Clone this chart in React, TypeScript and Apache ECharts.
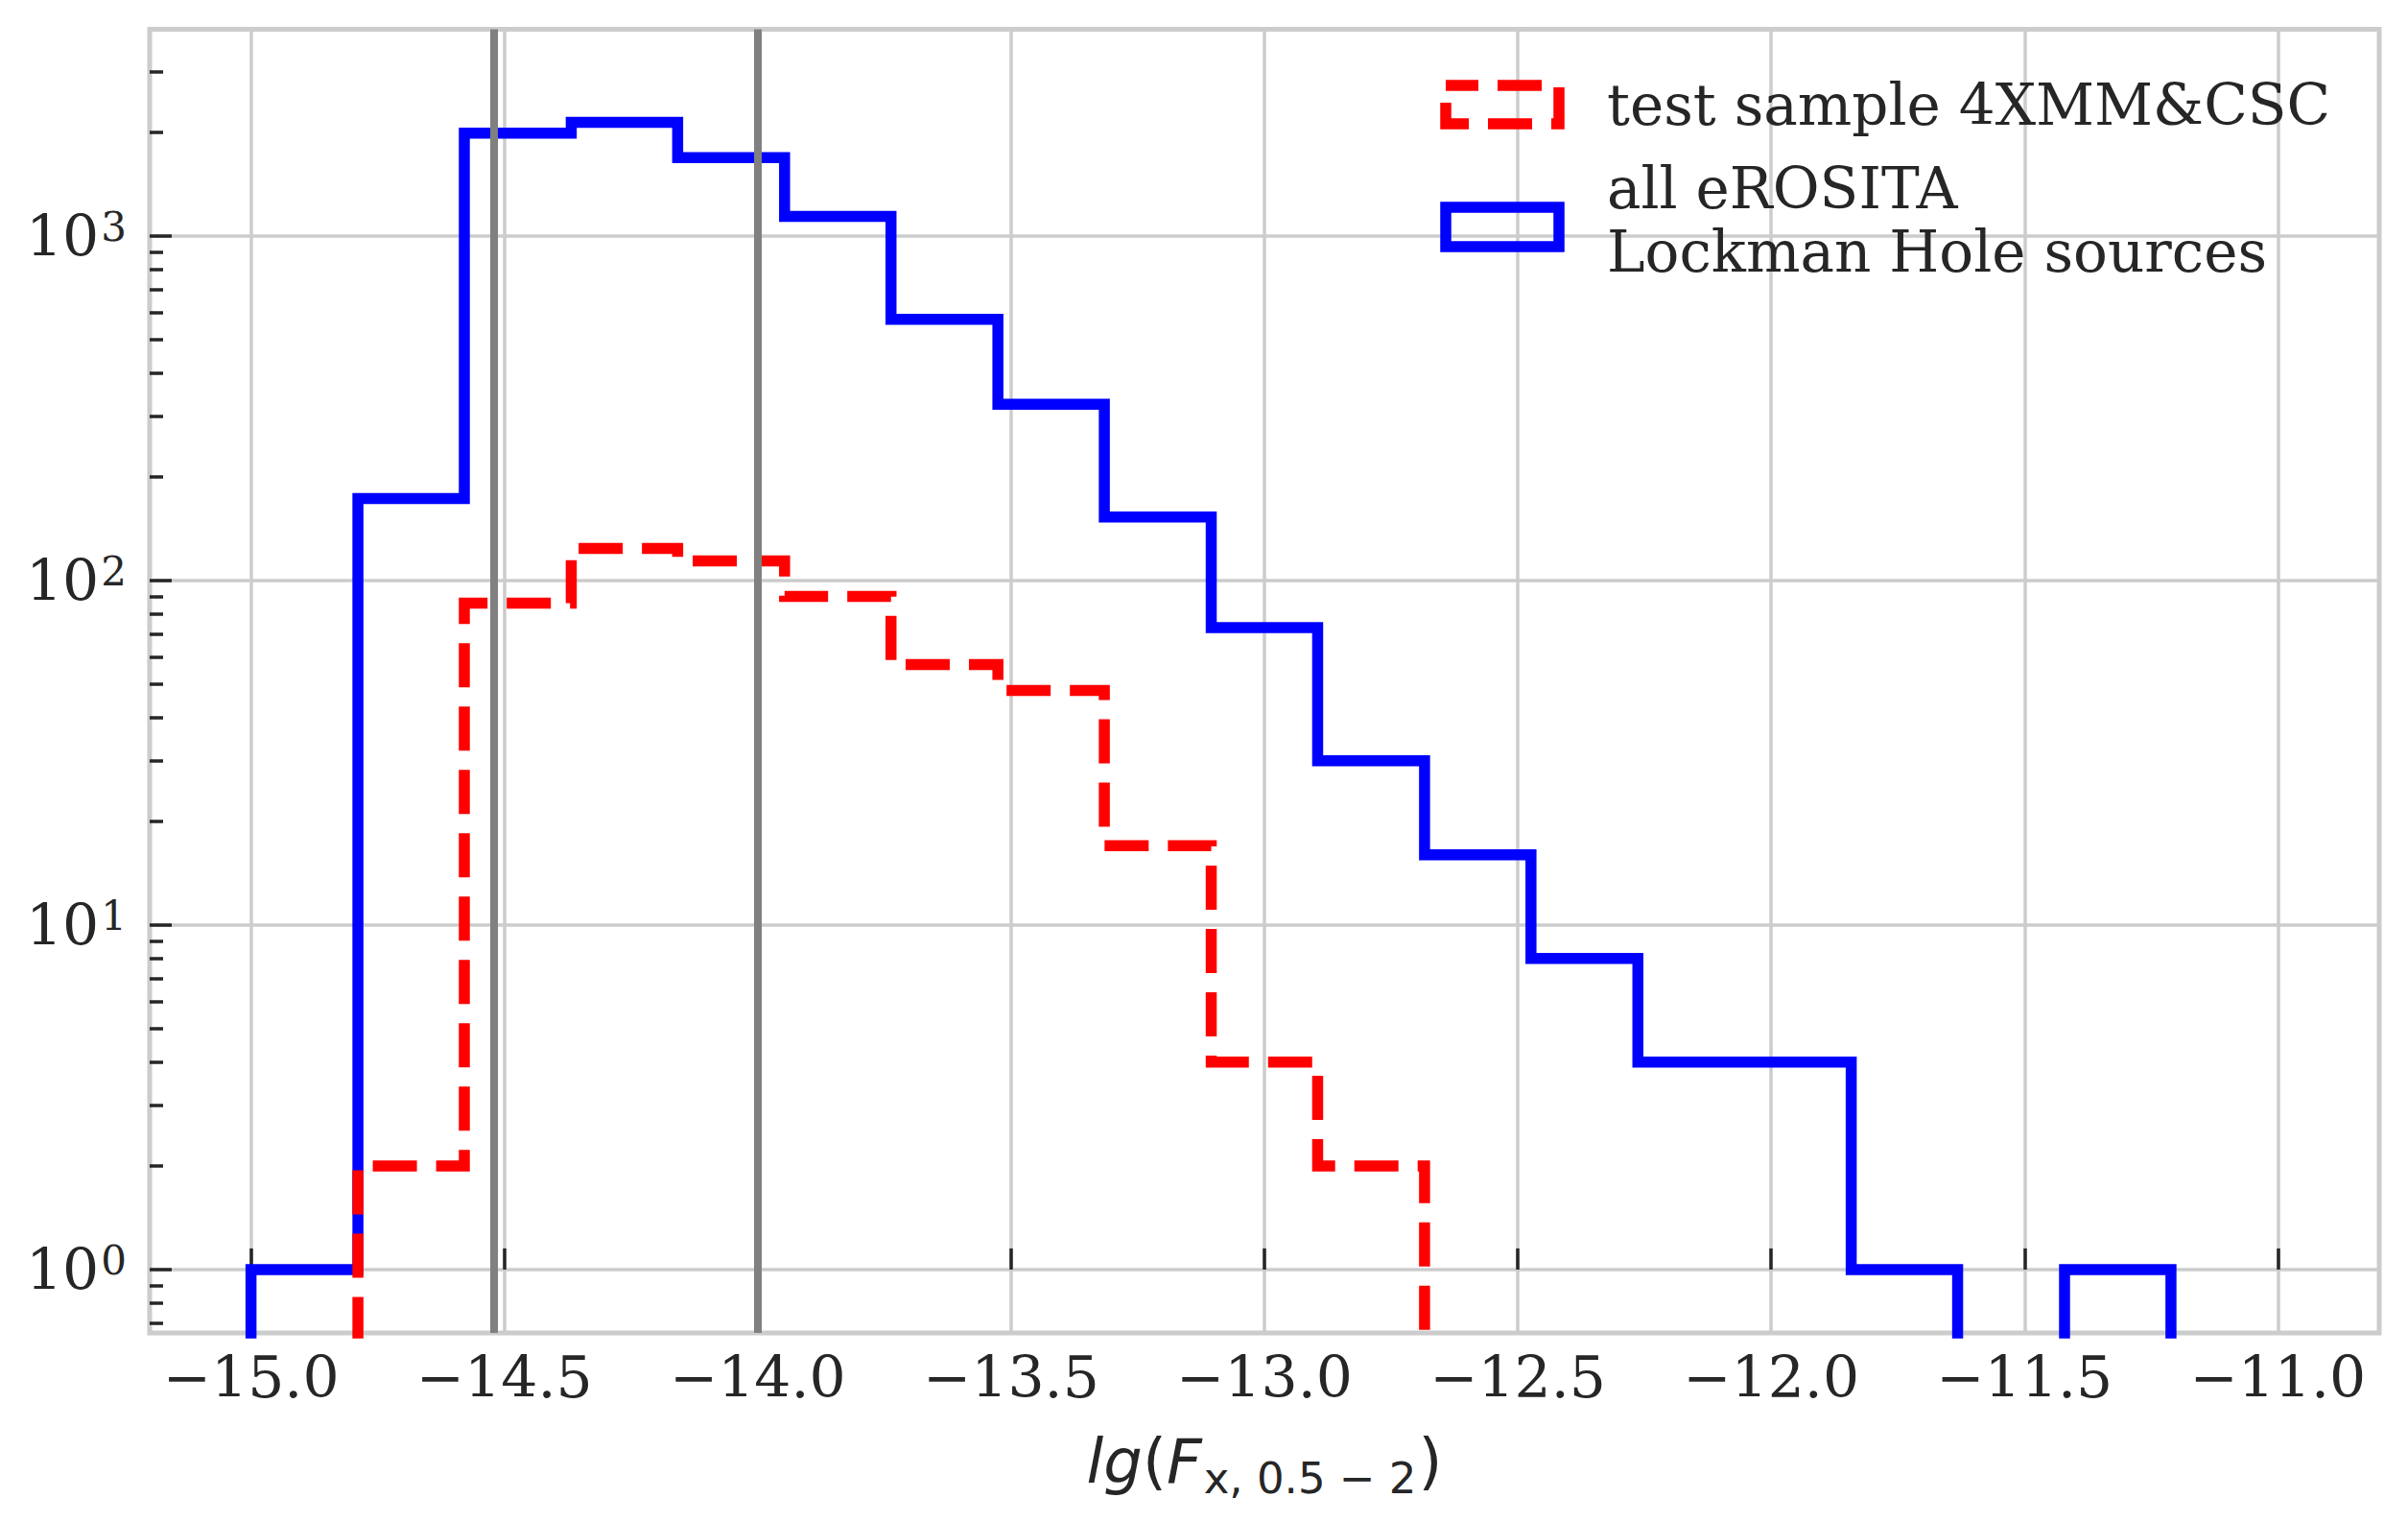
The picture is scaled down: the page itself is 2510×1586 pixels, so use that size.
import React, { useEffect, useRef } from "react";
import * as echarts from "echarts";

// Histogram bin edges (lg F_x, 0.5-2)
const binEdges = [
  -15.0, -14.789, -14.579, -14.368, -14.158, -13.947, -13.737, -13.526, -13.316, -13.105,
  -12.895, -12.684, -12.474, -12.263, -12.053, -11.842, -11.632, -11.421, -11.211, -11.0,
];
// Counts per bin
const eRositaCounts = [1, 173, 1990, 2140, 1690, 1140, 573, 325, 153, 73, 30, 16, 8, 4, 4, 1, 0, 1, 0];
const testSampleCounts = [0, 2, 86, 124, 114, 90, 57, 48, 17, 4, 2, 0, 0, 0, 0, 0, 0, 0, 0];
// Vertical reference lines
const refLines = [-14.52, -14.0];
// Tick values
const xTickValues = [-15.0, -14.5, -14.0, -13.5, -13.0, -12.5, -12.0, -11.5, -11.0];
const yMajorTicks = [1, 10, 100, 1000];
const yMinorTicks = [
  0.7, 0.8, 0.9, 2, 3, 4, 5, 6, 7, 8, 9, 20, 30, 40, 50, 60, 70, 80, 90,
  200, 300, 400, 500, 600, 700, 800, 900, 2000, 3000,
];
const seriesNames = ["test sample 4XMM&CSC", "all eROSITA\nLockman Hole sources"];

const X_MIN = -15.2;
const X_MAX = -10.8;
const Y_MIN = -0.184; // log10 of lower limit
const Y_MAX = 3.6; // log10 of upper limit
const BASE = -1;

function stepPoints(counts: number[]) {
  const toY = (c: number) => (c > 0 ? Math.log10(c) : BASE);
  const pts: number[][] = [[binEdges[0], BASE]];
  for (let i = 0; i < counts.length; i++) {
    pts.push([binEdges[i], toY(counts[i])]);
    pts.push([binEdges[i + 1], toY(counts[i])]);
  }
  pts.push([binEdges[binEdges.length - 1], BASE]);
  return pts;
}

const fmtX = (v: number) => (v < 0 ? "\u2212" + Math.abs(v).toFixed(1) : v.toFixed(1));

export default function App() {
  const ref = useRef<HTMLDivElement>(null);
  useEffect(() => {
    if (!ref.current) return;
    const chart = echarts.init(ref.current, undefined, { renderer: "svg" });
    const textColor = "#262626";
    const option: any = {
      animation: false,
      backgroundColor: "#ffffff",
      grid: {
        left: 156,
        right: 30,
        top: 30.6,
        bottom: 197,
        show: true,
        borderColor: "#cccccc",
        borderWidth: 5,
        backgroundColor: "transparent",
      },
      xAxis: {
        type: "value",
        min: X_MIN,
        max: X_MAX,
        axisLine: { show: false },
        axisTick: {
          show: true,
          inside: true,
          length: 22,
          customValues: xTickValues,
          lineStyle: { color: textColor, width: 3.5 },
        },
        axisLabel: {
          customValues: xTickValues,
          formatter: fmtX,
          fontFamily: "DejaVu Serif",
          fontSize: 60,
          color: textColor,
          margin: 16,
        },
        splitLine: { show: true, lineStyle: { color: "#cccccc", width: 3.5 } },
        name: "{it|lg}{rm|(}{it|F}{sub|x, 0.5 \u2212 2}{rm|)}",
        nameLocation: "middle",
        nameGap: 94,
        nameTextStyle: {
          color: textColor,
          rich: {
            it: { fontFamily: "DejaVu Sans", fontStyle: "italic", fontSize: 64, lineHeight: 80, color: textColor },
            rm: { fontFamily: "DejaVu Sans", fontSize: 64, lineHeight: 80, color: textColor },
            sub: {
              fontFamily: "DejaVu Sans",
              fontSize: 45,
              lineHeight: 62,
              verticalAlign: "bottom",
              color: textColor,
              padding: [0, 2, 0, 2],
            },
          },
        },
      },
      yAxis: [
        {
          type: "value",
          min: Y_MIN,
          max: Y_MAX,
          axisLine: { show: false },
          axisTick: {
            show: true,
            inside: true,
            length: 23,
            customValues: yMajorTicks.map((v) => Math.log10(v)),
            lineStyle: { color: textColor, width: 3.5 },
          },
          axisLabel: {
            customValues: yMajorTicks.map((v) => Math.log10(v)),
            formatter: (v: number) => `{b|10}{s|${Math.round(v)}}`,
            margin: 24,
            rich: {
              b: { fontFamily: "DejaVu Serif", fontSize: 60, lineHeight: 60, color: textColor },
              s: {
                fontFamily: "DejaVu Serif",
                fontSize: 42,
                lineHeight: 36,
                verticalAlign: "top",
                color: textColor,
                padding: [0, 0, 0, 2],
              },
            },
          },
          splitLine: { show: true, lineStyle: { color: "#cccccc", width: 3.5 } },
        },
        {
          type: "value",
          min: Y_MIN,
          max: Y_MAX,
          position: "left",
          axisLine: { show: false },
          axisTick: {
            show: true,
            inside: true,
            length: 14,
            customValues: yMinorTicks.map((v) => Math.log10(v)),
            lineStyle: { color: textColor, width: 3.5 },
          },
          axisLabel: { show: false },
          splitLine: { show: false },
        },
      ],
      series: [
        {
          name: seriesNames[1],
          type: "line",
          data: stepPoints(eRositaCounts),
          showSymbol: false,
          symbol: "none",
          z: 2,
          lineStyle: { color: "#0000ff", width: 11.5, join: "miter", cap: "butt" },
          markLine: {
            silent: true,
            symbol: ["none", "none"],
            label: { show: false },
            lineStyle: { color: "#808080", width: 8, type: "solid" },
            data: refLines.map((v) => ({ xAxis: v })),
          },
        },
        {
          name: seriesNames[0],
          type: "line",
          data: stepPoints(testSampleCounts),
          showSymbol: false,
          symbol: "none",
          z: 3,
          lineStyle: { color: "#ff0000", width: 11.5, type: [46, 20], join: "miter", cap: "butt" },
        },
      ],
      graphic: [
        {
          type: "rect",
          shape: { x: 1507, y: 89, width: 118, height: 40 },
          style: { fill: "none", stroke: "#ff0000", lineWidth: 11.5, lineDash: [46, 20], lineDashOffset: 12 },
          z: 10,
        },
        {
          type: "text",
          x: 1675,
          y: 109,
          style: {
            text: seriesNames[0],
            fontFamily: "DejaVu Serif",
            fontSize: 59.6,
            fill: textColor,
            verticalAlign: "middle",
            align: "left",
          },
          z: 10,
        },
        {
          type: "rect",
          shape: { x: 1507, y: 216, width: 118, height: 41 },
          style: { fill: "none", stroke: "#0000ff", lineWidth: 11.5 },
          z: 10,
        },
        {
          type: "text",
          x: 1675,
          y: 196,
          style: {
            text: "all eROSITA",
            fontFamily: "DejaVu Serif",
            fontSize: 59.6,
            fill: textColor,
            verticalAlign: "middle",
            align: "left",
          },
          z: 10,
        },
        {
          type: "text",
          x: 1675,
          y: 262,
          style: {
            text: "Lockman Hole sources",
            fontFamily: "DejaVu Serif",
            fontSize: 59.6,
            fill: textColor,
            verticalAlign: "middle",
            align: "left",
          },
          z: 10,
        },
      ],
    };
    chart.setOption(option);
    return () => chart.dispose();
  }, []);
  return (
    <div
      ref={ref}
      style={{ position: "absolute", left: 0, top: 0, width: 2510, height: 1586 }}
    />
  );
}
